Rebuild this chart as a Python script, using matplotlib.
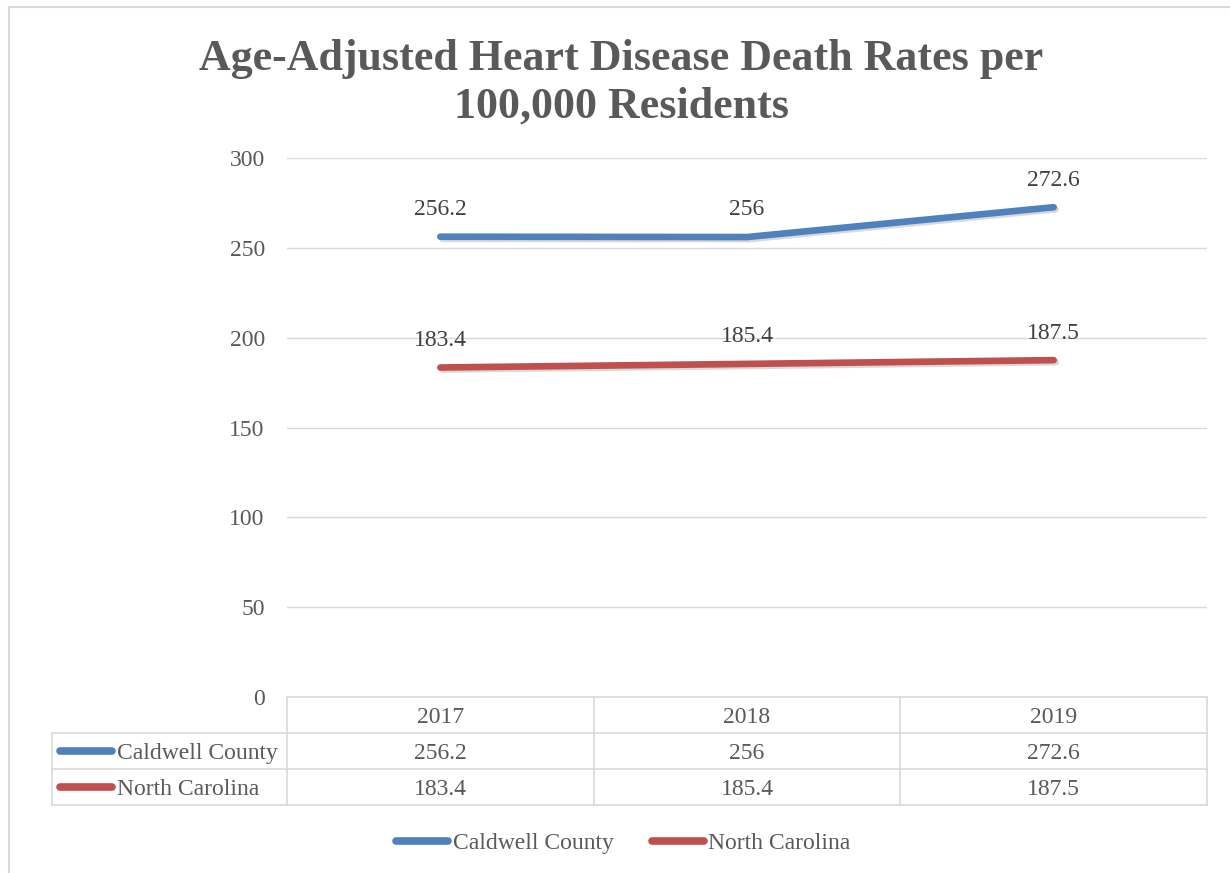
import matplotlib
matplotlib.use("Agg")
import matplotlib.pyplot as plt
from matplotlib.lines import Line2D
import matplotlib.patheffects as pe

years = ["2017", "2018", "2019"]
series_names = ["Caldwell County", "North Carolina"]
caldwell = [256.2, 256, 272.6]
north_carolina = [183.4, 185.4, 187.5]
yticks = [0, 50, 100, 150, 200, 250, 300]
title = "Age-Adjusted Heart Disease Death Rates per\n100,000 Residents"

colors = ["#4f81bd", "#c0504d"]
series_vals = [caldwell, north_carolina]

W, H = 1230, 873
FONT = "Liberation Serif"
TXT = "#595959"
GRID = "#d9d9d9"
FS = 17

fig = plt.figure(figsize=(W / 100, H / 100), dpi=100)

def fx(px):
    return px / W

def fy(py):
    return 1 - py / H

# outer border (left and top)
fig.add_artist(Line2D([fx(9), fx(9)], [fy(7), fy(880)], color="#d9d9d9", lw=1.5, transform=fig.transFigure))
fig.add_artist(Line2D([fx(9), fx(1240)], [fy(7), fy(7)], color="#d9d9d9", lw=1.5, transform=fig.transFigure))

left, right, top, bottom = 287, 1207, 158, 697
ax = fig.add_axes([fx(left), fy(bottom), fx(right - left), fy(top) - fy(bottom)])
ax.set_xlim(-0.5, len(years) - 0.5)
ax.set_ylim(0, 300)
ax.set_yticks(yticks)
ax.set_yticklabels([str(t) for t in yticks], fontfamily=FONT, fontsize=FS, color=TXT)
ax.tick_params(axis="y", length=0, pad=16)
ax.set_xticks([])
for s in ax.spines.values():
    s.set_visible(False)
ax.grid(axis="y", color=GRID, lw=1)
ax.set_axisbelow(True)

x = list(range(len(years)))
for vals, c in zip(series_vals, colors):
    ax.plot(x, vals, color=c, lw=4.8, solid_capstyle="round", solid_joinstyle="round",
            path_effects=[pe.SimpleLineShadow(offset=(1.5, -1.5), alpha=0.15), pe.Normal()], zorder=3)
    for xi, v in zip(x, vals):
        ax.annotate(f"{v:g}", (xi, v), xytext=(0, 19.5), textcoords="offset points",
                    ha="center", va="center", fontfamily=FONT, fontsize=FS, color="#404040")

fig.text(0.5 * (fx(200) + fx(1043)), fy(83), title, ha="center", va="center",
         fontfamily=FONT, fontweight="bold", fontsize=31.7, color=TXT, linespacing=1.24)

# data table
col_edges = [287, 594, 900, 1207]
row_edges = [697, 733, 769, 805]
tl = dict(color=GRID, lw=1.2, transform=fig.transFigure)
fig.add_artist(Line2D([fx(287), fx(1207)], [fy(697), fy(697)], **tl))
for ry in row_edges[1:]:
    fig.add_artist(Line2D([fx(52), fx(1207)], [fy(ry), fy(ry)], **tl))
for cx in col_edges:
    fig.add_artist(Line2D([fx(cx), fx(cx)], [fy(697), fy(805)], **tl))
fig.add_artist(Line2D([fx(52), fx(52)], [fy(733), fy(805)], **tl))

TOFF = 2.5
centers = [(col_edges[i] + col_edges[i + 1]) / 2 for i in range(len(years))]
for cx, yr in zip(centers, years):
    fig.text(fx(cx), fy(715 + TOFF), yr, ha="center", va="center", fontfamily=FONT, fontsize=FS, color=TXT)
for r, (name, vals, c) in enumerate(zip(series_names, series_vals, colors)):
    cy = (row_edges[r + 1] + row_edges[r + 2]) / 2
    fig.add_artist(Line2D([fx(60), fx(112)], [fy(cy), fy(cy)], color=c, lw=5.5,
                          solid_capstyle="round", transform=fig.transFigure))
    fig.text(fx(117), fy(cy + TOFF), name, ha="left", va="center", fontfamily=FONT, fontsize=FS, color=TXT)
    for cx, v in zip(centers, vals):
        fig.text(fx(cx), fy(cy + TOFF), f"{v:g}", ha="center", va="center", fontfamily=FONT, fontsize=FS, color=TXT)

# bottom legend
leg_pos = [(396, 448, 453), (652, 704, 708)]
for (x0, x1, tx), name, c in zip(leg_pos, series_names, colors):
    fig.add_artist(Line2D([fx(x0), fx(x1)], [fy(841), fy(841)], color=c, lw=5.5,
                          solid_capstyle="round", transform=fig.transFigure))
    fig.text(fx(tx), fy(841 + TOFF), name, ha="left", va="center", fontfamily=FONT, fontsize=FS, color=TXT)

fig.savefig("out.png", dpi=100, facecolor="white")
